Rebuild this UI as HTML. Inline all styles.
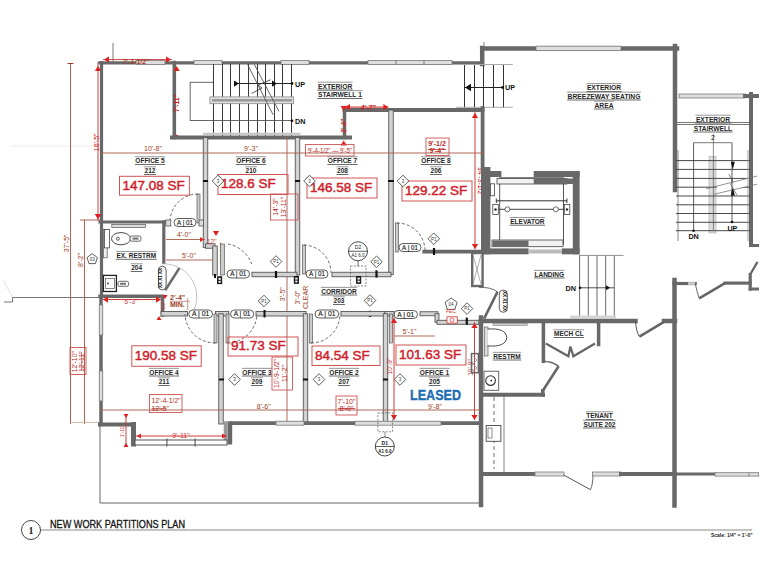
<!DOCTYPE html>
<html><head><meta charset="utf-8"><style>
html,body{margin:0;padding:0;background:#fff;}
svg{display:block;font-family:"Liberation Sans",sans-serif;}
</style></head><body>
<svg width="761" height="588" viewBox="0 0 761 588">
<rect width="761" height="588" fill="#fff"/>
<line x1="10" y1="146" x2="100" y2="146" stroke="#e4e4e4" stroke-width="0.8" />
<line x1="3.6" y1="280.8" x2="13" y2="298" stroke="#e0e0e0" stroke-width="1" />
<line x1="4" y1="302" x2="12.5" y2="302" stroke="#666" stroke-width="0.9" />
<line x1="12.5" y1="302" x2="12.5" y2="297.5" stroke="#666" stroke-width="0.9" />
<line x1="12.5" y1="297.5" x2="100" y2="297.5" stroke="#666" stroke-width="0.9" />
<line x1="100" y1="424" x2="100" y2="503" stroke="#666" stroke-width="1" />
<line x1="100" y1="503" x2="480" y2="503" stroke="#666" stroke-width="1" />
<line x1="40" y1="530" x2="752" y2="530" stroke="#8a8a8a" stroke-width="1.2" />
<circle cx="31" cy="530" r="9.5" fill="#fff" stroke="#444" stroke-width="1"/>
<text x="31" y="534" font-size="10" fill="#222" text-anchor="middle" font-weight="bold" font-family="Liberation Serif">1</text>
<text x="50" y="528" font-size="11" fill="#111" text-anchor="start" font-weight="normal" textLength="135" lengthAdjust="spacingAndGlyphs" stroke="#111" stroke-width="0.3">NEW WORK PARTITIONS PLAN</text>
<text x="711" y="537" font-size="5.5" fill="#222" text-anchor="start" font-weight="bold" textLength="41.5" lengthAdjust="spacingAndGlyphs">Scale: 1/4" = 1'-0"</text>
<line x1="113" y1="43" x2="113" y2="62" stroke="#555" stroke-width="0.8" />
<line x1="70.5" y1="63" x2="70.5" y2="424" stroke="#ad6450" stroke-width="1" />
<text x="69.5" y="243.4" font-size="7" fill="#9c4028" text-anchor="middle" font-weight="normal" transform="rotate(-90 69.5 243.4)">37'-5"</text>
<line x1="98" y1="62" x2="98" y2="221" stroke="#c04040" stroke-width="0.95" />
<polygon points="94.875,71 101.125,71 98,66" fill="#e02020"/>
<polygon points="94.875,214 101.125,214 98,219" fill="#e02020"/>
<text x="99.3" y="142.3" font-size="7" fill="#d02020" text-anchor="middle" font-weight="normal" transform="rotate(-90 99.3 142.3)">16'-5"</text>
<line x1="84.5" y1="220" x2="84.5" y2="424" stroke="#ad6450" stroke-width="1" />
<text x="83.3" y="260" font-size="7" fill="#9c4028" text-anchor="middle" font-weight="normal" transform="rotate(-90 83.3 260)">8'-2"</text>
<line x1="67.5" y1="63.5" x2="73.5" y2="63.5" stroke="#9c4028" stroke-width="1" />
<line x1="80" y1="220" x2="100" y2="220" stroke="#9c4028" stroke-width="0.8" />
<rect x="70" y="347.5" width="16" height="27" fill="none" stroke="#cf5555" stroke-width="0.9"/>
<text x="77" y="361.7" font-size="6.8" fill="#b82828" text-anchor="middle" font-weight="normal" transform="rotate(-90 77 361.7)">12'-10"</text>
<text x="84.3" y="361.7" font-size="6.8" fill="#b82828" text-anchor="middle" font-weight="normal" transform="rotate(-90 84.3 361.7)">12'-11"</text>
<line x1="81.7" y1="352" x2="81.7" y2="371" stroke="#b82828" stroke-width="0.7" />
<line x1="70" y1="422.4" x2="100" y2="422.4" stroke="#c9a59a" stroke-width="0.8" />
<polygon points="92.2,253.7 97.4,257.5 95.4,263.6 89.0,263.6 87.0,257.5" fill="#fff" stroke="#333" stroke-width="0.8"/>
<text x="92.2" y="261.2" font-size="4.5" fill="#333" text-anchor="middle" font-weight="normal" >03</text>
<line x1="100" y1="62.9" x2="482" y2="62.9" stroke="#686868" stroke-width="3.4" stroke-linecap="square"/>
<rect x="136" y="60.5" width="29" height="4" fill="#dedede" stroke="#7a7a7a" stroke-width="0.8"/>
<rect x="194" y="60.5" width="28" height="4" fill="#dedede" stroke="#7a7a7a" stroke-width="0.8"/>
<rect x="281" y="60.5" width="28" height="4" fill="#dedede" stroke="#7a7a7a" stroke-width="0.8"/>
<rect x="368" y="60.5" width="84" height="4" fill="#dedede" stroke="#7a7a7a" stroke-width="0.8"/>
<line x1="396" y1="60.5" x2="396" y2="64.5" stroke="#777" stroke-width="1" />
<line x1="424" y1="60.5" x2="424" y2="64.5" stroke="#777" stroke-width="1" />
<line x1="101.5" y1="62.5" x2="101.5" y2="297.5" stroke="#686868" stroke-width="3.2" stroke-linecap="square"/>
<line x1="174.3" y1="62.5" x2="174.3" y2="137.5" stroke="#686868" stroke-width="3.6" stroke-linecap="square"/>
<line x1="103" y1="59.6" x2="172" y2="59.6" stroke="#c84040" stroke-width="1" />
<polygon points="109,56.475 109,62.725 104,59.6" fill="#e02020"/>
<polygon points="166,56.475 166,62.725 171,59.6" fill="#e02020"/>
<polygon points="173.475,71 179.725,71 176.6,66" fill="#e02020"/>
<circle cx="176.6" cy="137" r="2.2" fill="#e02020"/>
<text x="136" y="63.5" font-size="6.8" fill="#a83a28" text-anchor="middle" font-weight="bold" >7'-1-1/2"</text>
<text x="179.3" y="103.3" font-size="6.5" fill="#d02020" text-anchor="middle" font-weight="bold" transform="rotate(-90 179.3 103.3)">7'-11"</text>
<line x1="172" y1="137.5" x2="350" y2="137.5" stroke="#686868" stroke-width="4" stroke-linecap="square"/>
<line x1="344.5" y1="110" x2="344.5" y2="137.5" stroke="#686868" stroke-width="3.5" stroke-linecap="square"/>
<line x1="344.5" y1="110" x2="482.6" y2="110" stroke="#686868" stroke-width="3.8" stroke-linecap="square"/>
<line x1="343" y1="107.1" x2="388.3" y2="107.1" stroke="#d02020" stroke-width="1" />
<polygon points="350,103.975 350,110.225 345,107.1" fill="#e02020"/>
<polygon points="383.3,103.975 383.3,110.225 388.3,107.1" fill="#e02020"/>
<polygon points="340.575,106 346.825,106 343.7,111" fill="#e02020"/>
<polygon points="340.575,145.5 346.825,145.5 343.7,140.5" fill="#e02020"/>
<text x="368.4" y="110" font-size="7" fill="#c02020" text-anchor="middle" font-weight="bold" >4'-7"</text>
<text x="346.2" y="125.7" font-size="6.5" fill="#d02020" text-anchor="middle" font-weight="bold" transform="rotate(-90 346.2 125.7)">2'-4"</text>
<line x1="213.5" y1="64" x2="213.5" y2="136" stroke="#3a3a3a" stroke-width="1" />
<line x1="222.5" y1="64" x2="222.5" y2="136" stroke="#3a3a3a" stroke-width="1" />
<line x1="230.5" y1="64" x2="230.5" y2="136" stroke="#3a3a3a" stroke-width="1" />
<line x1="239.5" y1="64" x2="239.5" y2="136" stroke="#3a3a3a" stroke-width="1" />
<line x1="248.5" y1="64" x2="248.5" y2="136" stroke="#3a3a3a" stroke-width="1" />
<line x1="257.5" y1="64" x2="257.5" y2="136" stroke="#3a3a3a" stroke-width="1" />
<line x1="265.5" y1="64" x2="265.5" y2="136" stroke="#3a3a3a" stroke-width="1" />
<line x1="274.5" y1="64" x2="274.5" y2="136" stroke="#3a3a3a" stroke-width="1" />
<line x1="282.5" y1="64" x2="282.5" y2="136" stroke="#3a3a3a" stroke-width="1" />
<line x1="291.5" y1="64" x2="291.5" y2="136" stroke="#3a3a3a" stroke-width="1" />
<rect x="203" y="132.7" width="97.4" height="2.6" fill="#c8c8c8"/>
<line x1="190" y1="82.3" x2="213" y2="82.3" stroke="#555" stroke-width="0.9" />
<line x1="190.2" y1="82.3" x2="190.2" y2="120.8" stroke="#555" stroke-width="0.9" />
<rect x="209.9" y="96.9" width="83.7" height="6.8" fill="#e0e0e0" stroke="#888" stroke-width="0.8"/><rect x="212" y="99" width="80" height="2.6" fill="#9a9a9a"/>
<line x1="238" y1="83.5" x2="292" y2="83.5" stroke="#222" stroke-width="1" />
<line x1="190" y1="120.5" x2="292" y2="120.5" stroke="#555" stroke-width="0.9" />
<circle cx="292" cy="83.5" r="1.4" fill="#111"/><circle cx="292" cy="120.8" r="1.4" fill="#111"/>
<polygon points="234,80.375 234,86.625 239,83.5" fill="#111"/>
<polygon points="272,80.375 272,86.625 277,83.5" fill="#111"/>
<line x1="247.5" y1="64.4" x2="273.1" y2="114.8" stroke="#555" stroke-width="0.9" />
<line x1="254.3" y1="64.4" x2="279" y2="111.4" stroke="#555" stroke-width="0.9" />
<polyline points="251.7,93.4 262,88 258,85 270.5,79.8" fill="none" stroke="#444" stroke-width="0.9"/>
<text x="295" y="87" font-size="7.2" fill="#111" text-anchor="start" font-weight="bold" >UP</text>
<text x="295" y="124" font-size="7.2" fill="#111" text-anchor="start" font-weight="bold" >DN</text>
<rect x="317.50" y="81.72" width="35.23" height="0.9" fill="#8a8a8a"/>
<text x="318.00" y="88.5" font-size="7.2" fill="#262626" font-weight="bold" textLength="34.23" lengthAdjust="spacingAndGlyphs">EXTERIOR</text>
<rect x="317.50" y="89.50" width="35.23" height="1" fill="#6a6a6a"/>
<rect x="317.50" y="90.22" width="44.90" height="0.9" fill="#8a8a8a"/>
<text x="318.00" y="97" font-size="7.2" fill="#262626" font-weight="bold" textLength="43.90" lengthAdjust="spacingAndGlyphs">STAIRWELL 1</text>
<rect x="317.50" y="98.00" width="44.90" height="1" fill="#6a6a6a"/>
<line x1="482.2" y1="48" x2="482.2" y2="64" stroke="#686868" stroke-width="4.5" stroke-linecap="square"/>
<line x1="482.2" y1="48.4" x2="677" y2="48.4" stroke="#686868" stroke-width="4.5" stroke-linecap="square"/>
<rect x="536" y="46.15" width="85" height="4.5" fill="#dedede" stroke="#7a7a7a" stroke-width="0.8"/>
<line x1="484" y1="42" x2="484" y2="47" stroke="#666" stroke-width="0.8" />
<line x1="675" y1="46" x2="675" y2="190" stroke="#686868" stroke-width="4.5" stroke-linecap="square"/>
<line x1="678" y1="150" x2="678" y2="241" stroke="#888" stroke-width="1" />
<line x1="464.5" y1="64" x2="464.5" y2="108" stroke="#333" stroke-width="1" />
<line x1="474.5" y1="64" x2="474.5" y2="108" stroke="#333" stroke-width="1" />
<line x1="483.5" y1="64" x2="483.5" y2="108" stroke="#333" stroke-width="1" />
<line x1="493.5" y1="64" x2="493.5" y2="108" stroke="#333" stroke-width="1" />
<line x1="503.5" y1="64" x2="503.5" y2="108" stroke="#333" stroke-width="1" />
<line x1="456.3" y1="64.5" x2="512.8" y2="64.5" stroke="#aaa" stroke-width="1" />
<line x1="456.3" y1="107.3" x2="512.8" y2="107.3" stroke="#aaa" stroke-width="1" />
<line x1="465" y1="87.5" x2="502.6" y2="87.5" stroke="#222" stroke-width="1" />
<polygon points="471,83.75 471,91.25 465,87.5" fill="#111"/>
<circle cx="502.6" cy="87.5" r="1.4" fill="#111"/>
<text x="505" y="90" font-size="7.2" fill="#111" text-anchor="start" font-weight="bold" >UP</text>
<rect x="586.39" y="83.22" width="35.23" height="0.9" fill="#8a8a8a"/>
<text x="586.89" y="90" font-size="7.2" fill="#262626" font-weight="bold" textLength="34.23" lengthAdjust="spacingAndGlyphs">EXTERIOR</text>
<rect x="586.39" y="91.00" width="35.23" height="1" fill="#6a6a6a"/>
<rect x="567.10" y="91.72" width="73.80" height="0.9" fill="#8a8a8a"/>
<text x="567.60" y="98.5" font-size="7.2" fill="#262626" font-weight="bold" textLength="72.80" lengthAdjust="spacingAndGlyphs">BREEZEWAY SEATING</text>
<rect x="567.10" y="99.50" width="73.80" height="1" fill="#6a6a6a"/>
<rect x="594.01" y="100.72" width="19.97" height="0.9" fill="#8a8a8a"/>
<text x="594.51" y="107.5" font-size="7.2" fill="#262626" font-weight="bold" textLength="18.97" lengthAdjust="spacingAndGlyphs">AREA</text>
<rect x="594.01" y="108.50" width="19.97" height="1" fill="#6a6a6a"/>
<rect x="679" y="94.0" width="66" height="4" fill="#dedede" stroke="#7a7a7a" stroke-width="0.8"/>
<line x1="745" y1="96" x2="757" y2="96" stroke="#686868" stroke-width="4" stroke-linecap="square"/>
<line x1="751" y1="94" x2="751" y2="245" stroke="#686868" stroke-width="4" stroke-linecap="square"/>
<line x1="751" y1="245.5" x2="757.5" y2="245.5" stroke="#686868" stroke-width="3" stroke-linecap="square"/>
<line x1="677" y1="122.5" x2="751" y2="122.5" stroke="#555" stroke-width="0.8" />
<line x1="677" y1="124.5" x2="751" y2="124.5" stroke="#555" stroke-width="0.8" />
<rect x="695.39" y="114.72" width="35.23" height="0.9" fill="#8a8a8a"/>
<text x="695.89" y="121.5" font-size="7.2" fill="#262626" font-weight="bold" textLength="34.23" lengthAdjust="spacingAndGlyphs">EXTERIOR</text>
<rect x="695.39" y="122.50" width="35.23" height="1" fill="#6a6a6a"/>
<rect x="693.28" y="123.72" width="39.44" height="0.9" fill="#8a8a8a"/>
<text x="693.78" y="130.5" font-size="7.2" fill="#262626" font-weight="bold" textLength="38.44" lengthAdjust="spacingAndGlyphs">STAIRWELL</text>
<rect x="693.28" y="131.50" width="39.44" height="1" fill="#6a6a6a"/>
<text x="713" y="139.5" font-size="7.2" fill="#222" text-anchor="middle" font-weight="normal" >2</text>
<rect x="709" y="156.5" width="7" height="76.5" fill="#dcdcdc" stroke="#aaa" stroke-width="0.6"/>
<line x1="676" y1="160.6" x2="750" y2="160.6" stroke="#333" stroke-width="0.9" />
<line x1="676" y1="169.4" x2="750" y2="169.4" stroke="#333" stroke-width="0.9" />
<line x1="676" y1="178.4" x2="750" y2="178.4" stroke="#333" stroke-width="0.9" />
<line x1="676" y1="187.2" x2="750" y2="187.2" stroke="#333" stroke-width="0.9" />
<line x1="676" y1="196" x2="750" y2="196" stroke="#333" stroke-width="0.9" />
<line x1="676" y1="204.8" x2="750" y2="204.8" stroke="#333" stroke-width="0.9" />
<line x1="676" y1="213.5" x2="750" y2="213.5" stroke="#333" stroke-width="0.9" />
<line x1="676" y1="222.3" x2="750" y2="222.3" stroke="#333" stroke-width="0.9" />
<line x1="676" y1="230.7" x2="750" y2="230.7" stroke="#333" stroke-width="0.9" />
<line x1="693.6" y1="142.7" x2="732" y2="142.7" stroke="#555" stroke-width="0.8" />
<line x1="693.6" y1="142.7" x2="693.6" y2="230.7" stroke="#333" stroke-width="0.8" />
<line x1="732" y1="142.7" x2="732" y2="222" stroke="#333" stroke-width="0.8" />
<line x1="713.4" y1="134" x2="713.4" y2="231" stroke="#555" stroke-width="0.7" />
<circle cx="693.6" cy="230.7" r="1.3" fill="#111"/><circle cx="732" cy="222" r="1.3" fill="#111"/>
<polygon points="716.8,186.1 749,178.06 749,186.1 716.8,193.6" fill="#fff"/>
<line x1="732" y1="178" x2="732" y2="196" stroke="#333" stroke-width="0.8" />
<line x1="706.2" y1="188.8" x2="757.2" y2="176" stroke="#777" stroke-width="0.8" />
<line x1="713.4" y1="194.4" x2="757.2" y2="184.2" stroke="#777" stroke-width="0.8" />
<polygon points="730.8,161.7 734.8,161.7 732.8,169.4" fill="#111"/><polygon points="732.8,187.2 734.8,195.4 730.8,195.4" fill="#111"/>
<polyline points="728.7,174 733,182 730.5,184 736.8,194.9" fill="none" stroke="#666" stroke-width="0.8"/>
<text x="693.6" y="239" font-size="7.2" fill="#111" text-anchor="middle" font-weight="bold" >DN</text>
<text x="732.4" y="230.5" font-size="7.2" fill="#111" text-anchor="middle" font-weight="bold" >UP</text>
<line x1="748" y1="150" x2="748" y2="241" stroke="#888" stroke-width="0.8" />
<rect x="203.25" y="137.5" width="4.5" height="110.0" fill="#d2d2d2" stroke="#555" stroke-width="0.9"/>
<rect x="205.5" y="243.75" width="9.5" height="4.5" fill="#d2d2d2" stroke="#555" stroke-width="0.9"/>
<rect x="212.75" y="246" width="4.5" height="29" fill="#d2d2d2" stroke="#555" stroke-width="0.9"/>
<rect x="295.25" y="137.5" width="4.5" height="137.5" fill="#d2d2d2" stroke="#555" stroke-width="0.9"/>
<rect x="388.75" y="110" width="4.5" height="164.5" fill="#d2d2d2" stroke="#555" stroke-width="0.9"/>
<line x1="482.6" y1="108" x2="482.6" y2="170" stroke="#686868" stroke-width="3.8" stroke-linecap="square"/>
<line x1="100" y1="153" x2="484" y2="153" stroke="#ad6450" stroke-width="0.95" />
<text x="153" y="151" font-size="7" fill="#9c4028" text-anchor="middle" font-weight="normal" >10'-8"</text>
<text x="251" y="151" font-size="7" fill="#9c4028" text-anchor="middle" font-weight="normal" >9'-3"</text>
<rect x="305.5" y="144.5" width="48.5" height="11.5" fill="none" stroke="#cf5555" stroke-width="0.9"/>
<text x="330" y="153" font-size="6.8" fill="#b82828" text-anchor="middle" font-weight="normal" textLength="44" lengthAdjust="spacingAndGlyphs">9'-4-1/2" — 9'-5"</text>
<rect x="426" y="138" width="23" height="17.5" fill="none" stroke="#cf5555" stroke-width="0.9"/>
<text x="437" y="145.5" font-size="7" fill="#b82828" text-anchor="middle" font-weight="bold" >9'-1/2</text>
<text x="437" y="152.5" font-size="7" fill="#b82828" text-anchor="middle" font-weight="bold" >9'-4"</text>
<line x1="428" y1="149.5" x2="446" y2="149.5" stroke="#b82828" stroke-width="0.8" />
<line x1="475" y1="112" x2="475" y2="249" stroke="#d03030" stroke-width="0.95" />
<polygon points="471.875,118 478.125,118 475,113" fill="#e02020"/>
<polygon points="471.875,244 478.125,244 475,249" fill="#e02020"/>
<text x="477.8" y="182" font-size="7" fill="#d02020" text-anchor="middle" font-weight="normal" transform="rotate(90 477.8 182)">14'-3-1/2"</text>
<rect x="134.85" y="156.36" width="30.30" height="0.9" fill="#8a8a8a"/>
<text x="135.35" y="163" font-size="7" fill="#262626" font-weight="bold" textLength="29.30" lengthAdjust="spacingAndGlyphs">OFFICE 5</text>
<rect x="134.85" y="164.00" width="30.30" height="1" fill="#6a6a6a"/>
<rect x="144.07" y="166.36" width="11.86" height="0.9" fill="#8a8a8a"/>
<text x="144.57" y="173" font-size="7" fill="#262626" font-weight="bold" textLength="10.86" lengthAdjust="spacingAndGlyphs">212</text>
<rect x="144.07" y="174.00" width="11.86" height="1" fill="#6a6a6a"/>
<rect x="235.85" y="156.36" width="30.30" height="0.9" fill="#8a8a8a"/>
<text x="236.35" y="163" font-size="7" fill="#262626" font-weight="bold" textLength="29.30" lengthAdjust="spacingAndGlyphs">OFFICE 6</text>
<rect x="235.85" y="164.00" width="30.30" height="1" fill="#6a6a6a"/>
<rect x="245.07" y="166.36" width="11.86" height="0.9" fill="#8a8a8a"/>
<text x="245.57" y="173" font-size="7" fill="#262626" font-weight="bold" textLength="10.86" lengthAdjust="spacingAndGlyphs">210</text>
<rect x="245.07" y="174.00" width="11.86" height="1" fill="#6a6a6a"/>
<rect x="327.35" y="156.36" width="30.30" height="0.9" fill="#8a8a8a"/>
<text x="327.85" y="163" font-size="7" fill="#262626" font-weight="bold" textLength="29.30" lengthAdjust="spacingAndGlyphs">OFFICE 7</text>
<rect x="327.35" y="164.00" width="30.30" height="1" fill="#6a6a6a"/>
<rect x="336.57" y="166.36" width="11.86" height="0.9" fill="#8a8a8a"/>
<text x="337.07" y="173" font-size="7" fill="#262626" font-weight="bold" textLength="10.86" lengthAdjust="spacingAndGlyphs">208</text>
<rect x="336.57" y="174.00" width="11.86" height="1" fill="#6a6a6a"/>
<rect x="420.85" y="156.36" width="30.30" height="0.9" fill="#8a8a8a"/>
<text x="421.35" y="163" font-size="7" fill="#262626" font-weight="bold" textLength="29.30" lengthAdjust="spacingAndGlyphs">OFFICE 8</text>
<rect x="420.85" y="164.00" width="30.30" height="1" fill="#6a6a6a"/>
<rect x="430.07" y="166.36" width="11.86" height="0.9" fill="#8a8a8a"/>
<text x="430.57" y="173" font-size="7" fill="#262626" font-weight="bold" textLength="10.86" lengthAdjust="spacingAndGlyphs">206</text>
<rect x="430.07" y="174.00" width="11.86" height="1" fill="#6a6a6a"/>
<rect x="119.5" y="176.3" width="69.9" height="18.899999999999977" fill="none" stroke="#cf5555" stroke-width="1"/>
<text x="122.5" y="189.665" font-size="13.5" fill="#d0202a" text-anchor="start" font-weight="normal" stroke="#d0202a" stroke-width="0.45">147.08 SF</text>
<rect x="218" y="174.5" width="70" height="20.0" fill="none" stroke="#cf5555" stroke-width="1"/>
<text x="221" y="188.415" font-size="13.5" fill="#d0202a" text-anchor="start" font-weight="normal" stroke="#d0202a" stroke-width="0.45">128.6 SF</text>
<rect x="307" y="178" width="70" height="20" fill="none" stroke="#cf5555" stroke-width="1"/>
<text x="310" y="191.915" font-size="13.5" fill="#d0202a" text-anchor="start" font-weight="normal" stroke="#d0202a" stroke-width="0.45">146.58 SF</text>
<rect x="402" y="181" width="70" height="20" fill="none" stroke="#cf5555" stroke-width="1"/>
<text x="405" y="194.915" font-size="13.5" fill="#d0202a" text-anchor="start" font-weight="normal" stroke="#d0202a" stroke-width="0.45">129.22 SF</text>
<polygon points="218,175.2 223.8,181 218,186.8 212.2,181" fill="#fff" stroke="#333" stroke-width="0.8"/>
<text x="218" y="182.8" font-size="4.5" fill="#333" text-anchor="middle" font-weight="normal" >3</text>
<polygon points="309.5,175.2 315.3,181 309.5,186.8 303.7,181" fill="#fff" stroke="#333" stroke-width="0.8"/>
<text x="309.5" y="182.8" font-size="4.5" fill="#333" text-anchor="middle" font-weight="normal" >3</text>
<polygon points="403,175.2 408.8,181 403,186.8 397.2,181" fill="#fff" stroke="#333" stroke-width="0.8"/>
<text x="403" y="182.8" font-size="4.5" fill="#333" text-anchor="middle" font-weight="normal" >3</text>
<line x1="203" y1="181" x2="208" y2="181" stroke="#111" stroke-width="2" />
<line x1="295" y1="181" x2="300" y2="181" stroke="#111" stroke-width="2" />
<line x1="388" y1="181" x2="394" y2="181" stroke="#111" stroke-width="2" />
<rect x="270.5" y="194" width="27.5" height="26" fill="none" stroke="#cf5555" stroke-width="0.9"/>
<text x="278" y="207" font-size="6.8" fill="#b82828" text-anchor="middle" font-weight="normal" transform="rotate(-90 278 207)">14'-3"</text>
<text x="286" y="207" font-size="6.8" fill="#b82828" text-anchor="middle" font-weight="normal" transform="rotate(-90 286 207)">13'-11"</text>
<line x1="287" y1="137.5" x2="287" y2="424" stroke="#ad6450" stroke-width="0.95" />
<line x1="100" y1="222" x2="164.6" y2="222" stroke="#686868" stroke-width="3.2" stroke-linecap="square"/>
<line x1="163.8" y1="222" x2="163.8" y2="262.4" stroke="#686868" stroke-width="3.2" stroke-linecap="square"/>
<line x1="100" y1="296.3" x2="162.5" y2="296.3" stroke="#686868" stroke-width="3.5" stroke-linecap="square"/>
<polygon points="94.875,214 101.125,214 98,219" fill="#e02020"/>
<rect x="111.8" y="224.6" width="33.7" height="2.8" fill="#ddd" stroke="#555" stroke-width="0.7"/>
<rect x="103.4" y="229.5" width="3.8" height="28.3" fill="#eee" stroke="#555" stroke-width="0.7"/>
<rect x="104.5" y="229.5" width="5" height="18.4" fill="#fff" stroke="#444" stroke-width="0.8"/>
<ellipse cx="121" cy="238.7" rx="9.5" ry="6.1" fill="#fff" stroke="#333" stroke-width="0.9"/>
<circle cx="117.9" cy="238.7" r="1.5" fill="none" stroke="#333" stroke-width="0.8"/>
<rect x="130.2" y="236" width="10.7" height="5.2" rx="1.5" fill="#fff" stroke="#444" stroke-width="0.8"/><rect x="132.5" y="237.5" width="6" height="2.2" fill="#777"/>
<rect x="115.91" y="251.16" width="40.79" height="0.9" fill="#8a8a8a"/>
<text x="116.41" y="257.8" font-size="7" fill="#262626" font-weight="bold" textLength="39.79" lengthAdjust="spacingAndGlyphs">EX. RESTRM</text>
<rect x="115.91" y="258.80" width="40.79" height="1" fill="#6a6a6a"/>
<rect x="130.67" y="263.36" width="11.86" height="0.9" fill="#8a8a8a"/>
<text x="131.17" y="270" font-size="7" fill="#262626" font-weight="bold" textLength="10.86" lengthAdjust="spacingAndGlyphs">204</text>
<rect x="130.67" y="271.00" width="11.86" height="1" fill="#6a6a6a"/>
<rect x="103.4" y="275.4" width="13" height="16.1" fill="#fff" stroke="#222" stroke-width="1.3"/>
<rect x="105.5" y="278.5" width="9" height="10" fill="#fff" stroke="#555" stroke-width="0.7"/><circle cx="108" cy="283.5" r="0.9" fill="#333"/>
<rect x="117.9" y="281.3" width="10.7" height="5" rx="1.5" fill="#fff" stroke="#444" stroke-width="0.8"/><rect x="120" y="282.8" width="6" height="2" fill="#777"/>
<rect x="158.5" y="266.2" width="7.6" height="23.7" rx="3.8" fill="#fff" stroke="#333" stroke-width="0.8"/>
<text x="162.3" y="278" font-size="4.5" fill="#222" text-anchor="middle" font-weight="bold" transform="rotate(-90 162.3 278)">XX X1 XX</text>
<line x1="165.2" y1="290.4" x2="179.5" y2="267.9" stroke="#6a6a6a" stroke-width="2.6" />
<path d="M163.2,263.8 A33,33 0 0 1 194,310" fill="none" stroke="#bbb" stroke-width="0.9"/>
<line x1="103" y1="299.5" x2="161" y2="299.5" stroke="#d03030" stroke-width="0.95" />
<polygon points="108,296.375 108,302.625 103,299.5" fill="#e02020"/>
<polygon points="156,296.375 156,302.625 161,299.5" fill="#e02020"/>
<text x="131" y="304" font-size="6.5" fill="#c04040" text-anchor="middle" font-weight="normal" >6'-3"</text>
<line x1="166" y1="239.5" x2="205" y2="239.5" stroke="#ad6450" stroke-width="0.95" />
<text x="184" y="237" font-size="7" fill="#9c4028" text-anchor="middle" font-weight="normal" >4'-0"</text>
<polygon points="200,237.0 200,242.0 204,239.5" fill="#e02020"/>
<line x1="166" y1="260" x2="213" y2="260" stroke="#ad6450" stroke-width="0.95" />
<text x="189" y="257.5" font-size="7" fill="#9c4028" text-anchor="middle" font-weight="normal" >5'-0"</text>
<text x="207" y="244" font-size="6.5" fill="#c04040" text-anchor="start" font-weight="normal" >12"</text>
<polygon points="212.875,231 219.125,231 216,236" fill="#e02020"/>
<text x="222.3" y="259" font-size="6" fill="#d02020" text-anchor="middle" font-weight="normal" transform="rotate(-90 220 255)">1'-2-1/2"</text>
<text x="170" y="299.9" font-size="7" fill="#9c4028" text-anchor="start" font-weight="bold" >2'-4"</text>
<text x="170" y="307.4" font-size="7" fill="#9c4028" text-anchor="start" font-weight="bold" >MIN.</text>
<line x1="170" y1="301.3" x2="190" y2="301.3" stroke="#b07060" stroke-width="0.7" />
<line x1="187.7" y1="298" x2="187.7" y2="310" stroke="#b07060" stroke-width="0.7" />
<line x1="162.5" y1="297" x2="162.5" y2="315" stroke="#686868" stroke-width="3.5" stroke-linecap="square"/>
<polygon points="162.5,295 167.5,295 165,299" fill="#e02020"/>
<polygon points="156.5,320 161.5,320 159,316" fill="#e02020"/>
<text x="165" y="308" font-size="5" fill="#c04040" text-anchor="middle" font-weight="normal" transform="rotate(-90 165 308)">4'-1/2"</text>
<rect x="197" y="194" width="3" height="29" fill="#ccc" stroke="#444" stroke-width="0.6"/>
<path d="M198,194 A28,28 0 0 0 170,222" fill="none" stroke="#444" stroke-width="0.8" stroke-dasharray="3,2"/>
<rect x="220.3" y="244" width="4" height="31" fill="#ccc" stroke="#444" stroke-width="0.6"/>
<path d="M228,244 A31,31 0 0 1 251.6,264" fill="none" stroke="#444" stroke-width="0.8" stroke-dasharray="3,2"/>
<rect x="302.5" y="245" width="3" height="29" fill="#ccc" stroke="#444" stroke-width="0.6"/>
<path d="M304,245 A28,28 0 0 1 331,273" fill="none" stroke="#444" stroke-width="0.8" stroke-dasharray="3,2"/>
<rect x="395.5" y="223" width="3" height="29" fill="#ccc" stroke="#444" stroke-width="0.6"/>
<path d="M397,223 A28,28 0 0 1 425,250" fill="none" stroke="#444" stroke-width="0.8" stroke-dasharray="3,2"/>
<rect x="165.8" y="220" width="5" height="6" fill="#ddd" stroke="#555" stroke-width="0.8"/><rect x="199" y="220" width="4.5" height="6" fill="#ddd" stroke="#555" stroke-width="0.8"/>
<rect x="174" y="218.5" width="22" height="8" rx="4" fill="#fff" stroke="#333" stroke-width="0.8"/>
<text x="185.0" y="224.8" font-size="6.5" fill="#1a1a1a" font-weight="normal" stroke="#1a1a1a" stroke-width="0.15" text-anchor="middle" textLength="15.8" lengthAdjust="spacingAndGlyphs">A | 01</text>
<rect x="252" y="272.25" width="45" height="4.5" fill="#d2d2d2" stroke="#555" stroke-width="0.9"/>
<rect x="332" y="272.25" width="59" height="4.5" fill="#d2d2d2" stroke="#555" stroke-width="0.9"/>
<rect x="227" y="270.0" width="22.5" height="8" rx="4" fill="#fff" stroke="#333" stroke-width="0.8"/>
<text x="238.25" y="276.3" font-size="6.5" fill="#1a1a1a" font-weight="normal" stroke="#1a1a1a" stroke-width="0.15" text-anchor="middle" textLength="16.2" lengthAdjust="spacingAndGlyphs">A | 01</text>
<rect x="306" y="270.0" width="22" height="8" rx="4" fill="#fff" stroke="#333" stroke-width="0.8"/>
<text x="317.0" y="276.3" font-size="6.5" fill="#1a1a1a" font-weight="normal" stroke="#1a1a1a" stroke-width="0.15" text-anchor="middle" textLength="15.8" lengthAdjust="spacingAndGlyphs">A | 01</text>
<line x1="424.3" y1="251.6" x2="481" y2="251.6" stroke="#686868" stroke-width="3.8" stroke-linecap="square"/>
<rect x="399" y="243.5" width="22" height="8" rx="4" fill="#fff" stroke="#333" stroke-width="0.8"/>
<text x="410.0" y="249.8" font-size="6.5" fill="#1a1a1a" font-weight="normal" stroke="#1a1a1a" stroke-width="0.15" text-anchor="middle" textLength="15.8" lengthAdjust="spacingAndGlyphs">A | 01</text>
<line x1="215" y1="274" x2="215" y2="278" stroke="#111" stroke-width="2" />
<rect x="217.6" y="276.8" width="4.1" height="6.8" fill="#333" stroke="#111" stroke-width="1"/><rect x="218.6" y="278" width="2.1" height="1.8" fill="#fff"/><rect x="218.6" y="281" width="2.1" height="1.6" fill="#fff"/>
<rect x="294.3" y="276.5" width="4.1" height="6.8" fill="#333" stroke="#111" stroke-width="1"/><rect x="295.3" y="277.7" width="2.1" height="1.8" fill="#fff"/><rect x="295.3" y="280.7" width="2.1" height="1.6" fill="#fff"/>
<polygon points="276,255.7 281.8,261.5 276,267.3 270.2,261.5" fill="#fff" stroke="#333" stroke-width="0.8"/>
<text x="276" y="263.3" font-size="4.5" fill="#333" text-anchor="middle" font-weight="normal" >P1</text>
<polygon points="376.5,256.0 382.3,261.8 376.5,267.6 370.7,261.8" fill="#fff" stroke="#333" stroke-width="0.8"/>
<text x="376.5" y="263.6" font-size="4.5" fill="#333" text-anchor="middle" font-weight="normal" >P1</text>
<polygon points="433.75,232.95 439.55,238.75 433.75,244.55 427.95,238.75" fill="#fff" stroke="#333" stroke-width="0.8"/>
<text x="433.75" y="240.55" font-size="4.5" fill="#333" text-anchor="middle" font-weight="normal" >P1</text>
<line x1="276" y1="271" x2="276" y2="278" stroke="#111" stroke-width="2.2" />
<line x1="376.5" y1="270.3" x2="376.5" y2="277.6" stroke="#111" stroke-width="2.2" />
<line x1="434" y1="248" x2="434" y2="255" stroke="#111" stroke-width="2.2" />
<rect x="356.6" y="276.5" width="4.1" height="6.8" fill="#333" stroke="#111" stroke-width="1"/><rect x="357.6" y="277.7" width="2.1" height="1.8" fill="#fff"/><rect x="357.6" y="280.7" width="2.1" height="1.6" fill="#fff"/>
<line x1="358.1" y1="259.8" x2="358.1" y2="266.4" stroke="#444" stroke-width="0.8" />
<circle cx="358" cy="251.25" r="9.5" fill="#fff" stroke="#333" stroke-width="0.9"/>
<line x1="348.5" y1="251.25" x2="367.5" y2="251.25" stroke="#333" stroke-width="0.8" />
<text x="358" y="249" font-size="5" fill="#222" text-anchor="middle" font-weight="normal" >D2</text>
<text x="358" y="257" font-size="4.5" fill="#222" text-anchor="middle" font-weight="normal" >A1 6.0</text>
<rect x="350.5" y="266" width="15.5" height="20" fill="none" stroke="#555" stroke-width="0.7" stroke-dasharray="2,1.5"/>
<rect x="320.78" y="286.86" width="36.44" height="0.9" fill="#8a8a8a"/>
<text x="321.28" y="293.5" font-size="7" fill="#262626" font-weight="bold" textLength="35.44" lengthAdjust="spacingAndGlyphs">CORRIDOR</text>
<rect x="320.78" y="294.50" width="36.44" height="1" fill="#6a6a6a"/>
<rect x="333.07" y="296.36" width="11.86" height="0.9" fill="#8a8a8a"/>
<text x="333.57" y="303" font-size="7" fill="#262626" font-weight="bold" textLength="10.86" lengthAdjust="spacingAndGlyphs">203</text>
<rect x="333.07" y="304.00" width="11.86" height="1" fill="#6a6a6a"/>
<text x="284.7" y="294.2" font-size="7" fill="#9c4028" text-anchor="middle" font-weight="normal" transform="rotate(-90 284.7 294.2)">3'-5"</text>
<text x="300.5" y="297.4" font-size="7" fill="#9c4028" text-anchor="middle" font-weight="normal" transform="rotate(-90 300.5 297.4)">3'-0"</text>
<text x="307.6" y="297.4" font-size="7" fill="#9c4028" text-anchor="middle" font-weight="normal" transform="rotate(-90 307.6 297.4)">CLEAR</text>
<polygon points="264,295.2 269.8,301 264,306.8 258.2,301" fill="#fff" stroke="#333" stroke-width="0.8"/>
<text x="264" y="302.8" font-size="4.5" fill="#333" text-anchor="middle" font-weight="normal" >P1</text>
<polygon points="370,294.7 375.8,300.5 370,306.3 364.2,300.5" fill="#fff" stroke="#333" stroke-width="0.8"/>
<text x="370" y="302.3" font-size="4.5" fill="#333" text-anchor="middle" font-weight="normal" >P1</text>
<line x1="370" y1="310.8" x2="370" y2="317" stroke="#111" stroke-width="2.2" />
<rect x="481" y="167" width="9.4" height="87.3" fill="#686868"/>
<rect x="481" y="171" width="20.4" height="6" fill="#686868"/>
<rect x="533.7" y="171" width="45.9" height="6" fill="#686868"/>
<rect x="572.8" y="171" width="6.8" height="83.3" fill="#686868"/>
<rect x="481" y="248.4" width="47.6" height="5.9" fill="#686868"/>
<rect x="561.8" y="248.4" width="17.8" height="5.9" fill="#686868"/>
<rect x="528.6" y="249.5" width="33.2" height="4" fill="#bbb"/>
<rect x="499.7" y="177.8" width="63.8" height="66.3" fill="none" stroke="#444" stroke-width="0.9"/>
<rect x="497" y="178.5" width="70" height="5.5" fill="#f2f2f2" stroke="#444" stroke-width="0.8"/>
<rect x="533.7" y="178.5" width="40" height="5.5" fill="#6a6a6a"/>
<rect x="492" y="240" width="71" height="6.7" fill="#f2f2f2" stroke="#444" stroke-width="0.8"/>
<rect x="492.5" y="240.5" width="36" height="6" fill="#6a6a6a"/>
<line x1="496.3" y1="200.8" x2="566.9" y2="200.8" stroke="#333" stroke-width="1" />
<line x1="496.3" y1="198.5" x2="496.3" y2="203" stroke="#333" stroke-width="1" />
<line x1="566.9" y1="198.5" x2="566.9" y2="203" stroke="#333" stroke-width="1" />
<line x1="496" y1="209.3" x2="566" y2="209.3" stroke="#444" stroke-width="1" />
<circle cx="507.4" cy="209.3" r="2.5" fill="#fff" stroke="#444" stroke-width="0.8"/><circle cx="555.8" cy="209.3" r="2.5" fill="#fff" stroke="#444" stroke-width="0.8"/>
<rect x="492.8" y="204.5" width="5.5" height="10" fill="#fff" stroke="#444" stroke-width="0.8"/><rect x="564.3" y="204.5" width="5.5" height="10" fill="#fff" stroke="#444" stroke-width="0.8"/>
<circle cx="495.5" cy="209.5" r="1.3" fill="#333"/><circle cx="567" cy="209.5" r="1.3" fill="#333"/>
<rect x="490.4" y="183.8" width="4.2" height="12" fill="#fff" stroke="#444" stroke-width="0.8"/>
<rect x="509.72" y="217.06" width="35.36" height="0.9" fill="#8a8a8a"/>
<text x="510.22" y="223.7" font-size="7" fill="#262626" font-weight="bold" textLength="34.36" lengthAdjust="spacingAndGlyphs">ELEVATOR</text>
<rect x="509.72" y="224.70" width="35.36" height="1" fill="#6a6a6a"/>
<rect x="472.2" y="253" width="10.4" height="33" fill="#fff" stroke="#6a6a6a" stroke-width="2.4"/>
<line x1="473" y1="255" x2="481" y2="284" stroke="#777" stroke-width="0.6" />
<line x1="481" y1="255" x2="473" y2="284" stroke="#777" stroke-width="0.6" />
<line x1="484.1" y1="318.6" x2="497.5" y2="291.8" stroke="#666" stroke-width="2.6" />
<path d="M478.75,287.3 Q491,287 497.5,291.8" fill="none" stroke="#444" stroke-width="0.8"/>
<rect x="499.3" y="290" width="8" height="22.3" rx="4" fill="#fff" stroke="#333" stroke-width="0.8"/>
<text x="503.3" y="301" font-size="4.5" fill="#222" text-anchor="middle" font-weight="bold" transform="rotate(90 503.3 301)">XX X1 XX</text>
<rect x="533.97" y="269.86" width="30.65" height="0.9" fill="#8a8a8a"/>
<text x="534.47" y="276.5" font-size="7" fill="#262626" font-weight="bold" textLength="29.65" lengthAdjust="spacingAndGlyphs">LANDING</text>
<rect x="533.97" y="277.50" width="30.65" height="1" fill="#6a6a6a"/>
<line x1="579.6" y1="255.4" x2="579.6" y2="316.7" stroke="#444" stroke-width="0.8" />
<line x1="588.3" y1="255.4" x2="588.3" y2="316.7" stroke="#444" stroke-width="0.8" />
<line x1="597" y1="255.4" x2="597" y2="316.7" stroke="#444" stroke-width="0.8" />
<line x1="605.7" y1="255.4" x2="605.7" y2="316.7" stroke="#444" stroke-width="0.8" />
<line x1="614.3" y1="255.4" x2="614.3" y2="316.7" stroke="#444" stroke-width="0.8" />
<line x1="579" y1="255.4" x2="623.6" y2="255.4" stroke="#777" stroke-width="0.8" />
<rect x="570" y="315.5" width="46" height="3" fill="#d5d5d5"/>
<line x1="580" y1="287.8" x2="614" y2="287.8" stroke="#222" stroke-width="0.8" />
<polygon points="606,285.3 606,290.3 610,287.8" fill="#111"/>
<circle cx="580" cy="287.8" r="1.3" fill="#111"/>
<text x="576" y="290.5" font-size="7.2" fill="#111" text-anchor="end" font-weight="bold" >DN</text>
<line x1="674.5" y1="280" x2="674.5" y2="505.5" stroke="#686868" stroke-width="4.5" stroke-linecap="square"/>
<line x1="674" y1="283.5" x2="695.2" y2="283.5" stroke="#686868" stroke-width="3.2" stroke-linecap="square"/>
<rect x="688" y="282.2" width="7.2" height="2.6" fill="#ccc"/>
<path d="M695.2,283.5 Q697,292 699.2,298.4" fill="none" stroke="#555" stroke-width="0.9"/>
<line x1="699.2" y1="298.4" x2="725" y2="283.1" stroke="#666" stroke-width="2.6" />
<line x1="725" y1="283.1" x2="750.2" y2="283.1" stroke="#686868" stroke-width="3.2" stroke-linecap="square"/>
<line x1="750.2" y1="274.5" x2="750.2" y2="289.1" stroke="#686868" stroke-width="3.2" stroke-linecap="square"/>
<line x1="750.2" y1="289" x2="757.5" y2="289" stroke="#686868" stroke-width="3" stroke-linecap="square"/>
<line x1="750.2" y1="274.5" x2="757.5" y2="261.9" stroke="#666" stroke-width="2.2" />
<rect x="161" y="311.5" width="26.5" height="4.5" fill="#d2d2d2" stroke="#555" stroke-width="0.9"/>
<rect x="188.75" y="310.0" width="23.75" height="8" rx="4" fill="#fff" stroke="#333" stroke-width="0.8"/>
<text x="200.625" y="316.3" font-size="6.5" fill="#1a1a1a" font-weight="normal" stroke="#1a1a1a" stroke-width="0.15" text-anchor="middle" textLength="17.1" lengthAdjust="spacingAndGlyphs">A | 01</text>
<rect x="215.5" y="311.5" width="13.25" height="4.5" fill="#d2d2d2" stroke="#555" stroke-width="0.9"/>
<rect x="230.5" y="310.0" width="23.25" height="8" rx="4" fill="#fff" stroke="#333" stroke-width="0.8"/>
<text x="242.125" y="316.3" font-size="6.5" fill="#1a1a1a" font-weight="normal" stroke="#1a1a1a" stroke-width="0.15" text-anchor="middle" textLength="16.7" lengthAdjust="spacingAndGlyphs">A | 01</text>
<rect x="256" y="311.5" width="50" height="4.5" fill="#d2d2d2" stroke="#555" stroke-width="0.9"/>
<line x1="264.5" y1="310" x2="264.5" y2="317.5" stroke="#111" stroke-width="2" />
<rect x="315" y="310.0" width="23.75" height="8" rx="4" fill="#fff" stroke="#333" stroke-width="0.8"/>
<text x="326.875" y="316.3" font-size="6.5" fill="#1a1a1a" font-weight="normal" stroke="#1a1a1a" stroke-width="0.15" text-anchor="middle" textLength="17.1" lengthAdjust="spacingAndGlyphs">A | 01</text>
<rect x="341" y="311.5" width="44" height="4.5" fill="#d2d2d2" stroke="#555" stroke-width="0.9"/>
<rect x="394" y="310.5" width="23.5" height="8" rx="4" fill="#fff" stroke="#333" stroke-width="0.8"/>
<text x="405.75" y="316.8" font-size="6.5" fill="#1a1a1a" font-weight="normal" stroke="#1a1a1a" stroke-width="0.15" text-anchor="middle" textLength="16.9" lengthAdjust="spacingAndGlyphs">A | 01</text>
<rect x="385" y="311.5" width="9" height="4.5" fill="#d2d2d2" stroke="#555" stroke-width="0.9"/>
<rect x="420" y="311.75" width="18" height="4" fill="#d2d2d2" stroke="#555" stroke-width="0.9"/>
<rect x="435.0" y="313.75" width="4" height="8.550000000000011" fill="#d2d2d2" stroke="#555" stroke-width="0.9"/>
<rect x="437" y="320.3" width="42" height="4" fill="#d2d2d2" stroke="#555" stroke-width="0.9"/>
<line x1="466.8" y1="317.6" x2="466.8" y2="324.7" stroke="#111" stroke-width="2.2" />
<rect x="218.75" y="313.75" width="4.5" height="110.25" fill="#d2d2d2" stroke="#555" stroke-width="0.9"/>
<rect x="303.25" y="313.75" width="4.5" height="110.25" fill="#d2d2d2" stroke="#555" stroke-width="0.9"/>
<rect x="383.25" y="313.75" width="4.5" height="110.25" fill="#d2d2d2" stroke="#555" stroke-width="0.9"/>
<line x1="481" y1="317.5" x2="481" y2="505" stroke="#686868" stroke-width="4.5" stroke-linecap="square"/>
<line x1="101" y1="297" x2="101" y2="424.5" stroke="#686868" stroke-width="3.5" stroke-linecap="square"/>
<rect x="99.25" y="305" width="3.5" height="30" fill="#dedede" stroke="#7a7a7a" stroke-width="0.8"/>
<rect x="99.25" y="371" width="3.5" height="30" fill="#dedede" stroke="#7a7a7a" stroke-width="0.8"/>
<line x1="100" y1="424.5" x2="132" y2="424.5" stroke="#686868" stroke-width="4" stroke-linecap="square"/>
<line x1="133.5" y1="424.5" x2="133.5" y2="444" stroke="#686868" stroke-width="5" stroke-linecap="square"/>
<line x1="232" y1="423.2" x2="481" y2="423.2" stroke="#686868" stroke-width="3.8" stroke-linecap="square"/>
<rect x="276" y="421.2" width="28" height="4" fill="#dedede" stroke="#7a7a7a" stroke-width="0.8"/>
<rect x="355" y="421.2" width="86" height="4" fill="#dedede" stroke="#7a7a7a" stroke-width="0.8"/>
<rect x="227.5" y="421.3" width="4.7" height="23.2" fill="#686868"/><rect x="223.7" y="421.3" width="3.8" height="23.2" fill="#999"/>
<rect x="135" y="440" width="92" height="5" fill="#fff" stroke="#555" stroke-width="1"/>
<line x1="166.9" y1="438.5" x2="166.9" y2="446.5" stroke="#444" stroke-width="1" />
<line x1="195.1" y1="438.5" x2="195.1" y2="446.5" stroke="#444" stroke-width="1" />
<line x1="136" y1="436" x2="227" y2="436" stroke="#d03030" stroke-width="0.95" />
<polygon points="141,433.5 141,438.5 137,436" fill="#e02020"/>
<polygon points="222,433.5 222,438.5 226,436" fill="#e02020"/>
<text x="181" y="437.6" font-size="7" fill="#c83030" text-anchor="middle" font-weight="normal" >9'-11"</text>
<line x1="126" y1="414" x2="126" y2="445" stroke="#d03030" stroke-width="0.95" />
<polygon points="123.5,414 128.5,414 126,418" fill="#e02020"/>
<polygon points="123.5,447 128.5,447 126,443" fill="#e02020"/>
<text x="124" y="431" font-size="5" fill="#c04040" text-anchor="middle" font-weight="normal" transform="rotate(-90 124 431)">1'-11"</text>
<rect x="214.0" y="314" width="3" height="29" fill="#ccc" stroke="#444" stroke-width="0.6"/>
<rect x="226.0" y="314" width="3" height="29" fill="#ccc" stroke="#444" stroke-width="0.6"/>
<rect x="309.5" y="314" width="3" height="29" fill="#ccc" stroke="#444" stroke-width="0.6"/>
<rect x="389.5" y="314" width="3" height="29" fill="#ccc" stroke="#444" stroke-width="0.6"/>
<path d="M215.5,343 A30,30 0 0 1 185,314" fill="none" stroke="#444" stroke-width="0.8" stroke-dasharray="3,2"/>
<path d="M227.5,343 A30,30 0 0 0 257,314" fill="none" stroke="#444" stroke-width="0.8" stroke-dasharray="3,2"/>
<path d="M311,343 A29,29 0 0 0 340,314" fill="none" stroke="#444" stroke-width="0.8" stroke-dasharray="3,2"/>
<line x1="100" y1="410" x2="481" y2="410" stroke="#ad6450" stroke-width="0.95" />
<rect x="131.8" y="345.8" width="69.39999999999998" height="20.5" fill="none" stroke="#cf5555" stroke-width="1"/>
<text x="134.8" y="359.96500000000003" font-size="13.5" fill="#d0202a" text-anchor="start" font-weight="normal" stroke="#d0202a" stroke-width="0.45">190.58 SF</text>
<rect x="228" y="337" width="70" height="19" fill="none" stroke="#cf5555" stroke-width="1"/>
<text x="231" y="350.415" font-size="13.5" fill="#d0202a" text-anchor="start" font-weight="normal" stroke="#d0202a" stroke-width="0.45">91.73 SF</text>
<rect x="312" y="346" width="68" height="19.5" fill="none" stroke="#cf5555" stroke-width="1"/>
<text x="315" y="359.665" font-size="13.5" fill="#d0202a" text-anchor="start" font-weight="normal" stroke="#d0202a" stroke-width="0.45">84.54 SF</text>
<rect x="396" y="345" width="70" height="20" fill="none" stroke="#cf5555" stroke-width="1"/>
<text x="399" y="358.915" font-size="13.5" fill="#d0202a" text-anchor="start" font-weight="normal" stroke="#d0202a" stroke-width="0.45">101.63 SF</text>
<rect x="148.85" y="367.86" width="30.30" height="0.9" fill="#8a8a8a"/>
<text x="149.35" y="374.5" font-size="7" fill="#262626" font-weight="bold" textLength="29.30" lengthAdjust="spacingAndGlyphs">OFFICE 4</text>
<rect x="148.85" y="375.50" width="30.30" height="1" fill="#6a6a6a"/>
<rect x="158.25" y="377.36" width="11.50" height="0.9" fill="#8a8a8a"/>
<text x="158.75" y="384" font-size="7" fill="#262626" font-weight="bold" textLength="10.50" lengthAdjust="spacingAndGlyphs">211</text>
<rect x="158.25" y="385.00" width="11.50" height="1" fill="#6a6a6a"/>
<rect x="241.85" y="367.86" width="30.30" height="0.9" fill="#8a8a8a"/>
<text x="242.35" y="374.5" font-size="7" fill="#262626" font-weight="bold" textLength="29.30" lengthAdjust="spacingAndGlyphs">OFFICE 3</text>
<rect x="241.85" y="375.50" width="30.30" height="1" fill="#6a6a6a"/>
<rect x="251.07" y="377.36" width="11.86" height="0.9" fill="#8a8a8a"/>
<text x="251.57" y="384" font-size="7" fill="#262626" font-weight="bold" textLength="10.86" lengthAdjust="spacingAndGlyphs">209</text>
<rect x="251.07" y="385.00" width="11.86" height="1" fill="#6a6a6a"/>
<rect x="328.85" y="367.86" width="30.30" height="0.9" fill="#8a8a8a"/>
<text x="329.35" y="374.5" font-size="7" fill="#262626" font-weight="bold" textLength="29.30" lengthAdjust="spacingAndGlyphs">OFFICE 2</text>
<rect x="328.85" y="375.50" width="30.30" height="1" fill="#6a6a6a"/>
<rect x="338.07" y="377.36" width="11.86" height="0.9" fill="#8a8a8a"/>
<text x="338.57" y="384" font-size="7" fill="#262626" font-weight="bold" textLength="10.86" lengthAdjust="spacingAndGlyphs">207</text>
<rect x="338.07" y="385.00" width="11.86" height="1" fill="#6a6a6a"/>
<rect x="419.35" y="367.86" width="30.30" height="0.9" fill="#8a8a8a"/>
<text x="419.85" y="374.5" font-size="7" fill="#262626" font-weight="bold" textLength="29.30" lengthAdjust="spacingAndGlyphs">OFFICE 1</text>
<rect x="419.35" y="375.50" width="30.30" height="1" fill="#6a6a6a"/>
<rect x="428.57" y="377.36" width="11.86" height="0.9" fill="#8a8a8a"/>
<text x="429.07" y="384" font-size="7" fill="#262626" font-weight="bold" textLength="10.86" lengthAdjust="spacingAndGlyphs">205</text>
<rect x="428.57" y="385.00" width="11.86" height="1" fill="#6a6a6a"/>
<polygon points="234.5,373.7 240.3,379.5 234.5,385.3 228.7,379.5" fill="#fff" stroke="#333" stroke-width="0.8"/>
<text x="234.5" y="381.3" font-size="4.5" fill="#333" text-anchor="middle" font-weight="normal" >3</text>
<polygon points="319,373.7 324.8,379.5 319,385.3 313.2,379.5" fill="#fff" stroke="#333" stroke-width="0.8"/>
<text x="319" y="381.3" font-size="4.5" fill="#333" text-anchor="middle" font-weight="normal" >3</text>
<polygon points="400,373.7 405.8,379.5 400,385.3 394.2,379.5" fill="#fff" stroke="#333" stroke-width="0.8"/>
<text x="400" y="381.3" font-size="4.5" fill="#333" text-anchor="middle" font-weight="normal" >3</text>
<line x1="219" y1="379.5" x2="224" y2="379.5" stroke="#111" stroke-width="2" />
<line x1="303" y1="379.5" x2="308" y2="379.5" stroke="#111" stroke-width="2" />
<line x1="383" y1="379.5" x2="388" y2="379.5" stroke="#111" stroke-width="2" />
<rect x="149.5" y="394.5" width="32.5" height="18" fill="none" stroke="#cf5555" stroke-width="0.9"/>
<text x="151.6" y="403" font-size="6.8" fill="#a83020" text-anchor="start" font-weight="normal" >12'-4-1/2"</text>
<text x="151.6" y="410.8" font-size="6.8" fill="#a83020" text-anchor="start" font-weight="normal" >12'-5"</text>
<line x1="151.6" y1="408.6" x2="166" y2="408.6" stroke="#a83020" stroke-width="0.7" />
<rect x="272" y="357" width="20.5" height="33" fill="none" stroke="#cf5555" stroke-width="0.9"/>
<text x="279" y="373.5" font-size="6.8" fill="#b82828" text-anchor="middle" font-weight="normal" transform="rotate(-90 279 373.5)">10'-9-1/2"</text>
<text x="287" y="373.5" font-size="6.8" fill="#b82828" text-anchor="middle" font-weight="normal" transform="rotate(-90 287 373.5)">11'-2"</text>
<rect x="336" y="396" width="21" height="19" fill="none" stroke="#cf5555" stroke-width="0.9"/>
<text x="346.5" y="403.5" font-size="7" fill="#b82828" text-anchor="middle" font-weight="normal" >7'-10"</text>
<text x="346.5" y="411" font-size="7" fill="#b82828" text-anchor="middle" font-weight="normal" >8'-0"</text>
<line x1="338" y1="408.5" x2="355" y2="408.5" stroke="#b82828" stroke-width="0.8" />
<text x="263.8" y="409.3" font-size="7" fill="#9c4028" text-anchor="middle" font-weight="normal" >8'-6"</text>
<text x="435" y="409" font-size="7" fill="#9c4028" text-anchor="middle" font-weight="normal" >9'-8"</text>
<text x="410" y="400" font-size="15" fill="#1b6db3" text-anchor="start" font-weight="bold" textLength="51" lengthAdjust="spacingAndGlyphs" stroke="#1b6db3" stroke-width="0.35">LEASED</text>
<line x1="394" y1="317" x2="394" y2="420" stroke="#d03030" stroke-width="0.95" />
<polygon points="390.875,323 397.125,323 394,318" fill="#e02020"/>
<polygon points="390.875,415 397.125,415 394,420" fill="#e02020"/>
<line x1="474.5" y1="322" x2="474.5" y2="420" stroke="#d03030" stroke-width="0.95" />
<polygon points="471.375,328 477.625,328 474.5,323" fill="#e02020"/>
<polygon points="471.375,415 477.625,415 474.5,420" fill="#e02020"/>
<text x="392" y="366" font-size="6.5" fill="#c04040" text-anchor="middle" font-weight="normal" transform="rotate(-90 392 366)">10'-9"</text>
<text x="473" y="367.5" font-size="6.5" fill="#c04040" text-anchor="middle" font-weight="normal" transform="rotate(-90 473 367.5)">10'-9"</text>
<line x1="394" y1="336" x2="435" y2="336" stroke="#ad6450" stroke-width="0.95" />
<text x="409.5" y="334" font-size="7" fill="#9c4028" text-anchor="middle" font-weight="normal" >5'-1"</text>
<polygon points="451.1,298.0 457.1,302.4 454.8,309.4 447.4,309.4 445.1,302.4" fill="#fff" stroke="#333" stroke-width="0.8"/>
<text x="451.1" y="306.3" font-size="4.5" fill="#333" text-anchor="middle" font-weight="normal" >04</text>
<text x="451" y="313" font-size="5" fill="#d03030" text-anchor="middle" font-weight="normal" >FEC</text>
<rect x="447" y="316.8" width="10.3" height="6.3" fill="#fff" stroke="#d03030" stroke-width="0.8"/><circle cx="452.1" cy="320" r="2" fill="none" stroke="#d03030" stroke-width="0.7"/>
<polygon points="467,302.8 472.8,308.6 467,314.40000000000003 461.2,308.6" fill="#fff" stroke="#333" stroke-width="0.8"/>
<text x="467" y="310.40000000000003" font-size="4.5" fill="#333" text-anchor="middle" font-weight="normal" >P1</text>
<circle cx="384.8" cy="446.5" r="9.5" fill="#fff" stroke="#333" stroke-width="0.9"/>
<line x1="375.3" y1="446.5" x2="394.3" y2="446.5" stroke="#333" stroke-width="0.8" />
<text x="384.8" y="444.5" font-size="5" fill="#222" text-anchor="middle" font-weight="bold" >D1</text>
<text x="384.8" y="452.5" font-size="4.5" fill="#222" text-anchor="middle" font-weight="bold" >A1 6.0</text>
<rect x="377.9" y="412.9" width="14.7" height="18.9" fill="none" stroke="#555" stroke-width="0.7" stroke-dasharray="2,1.5"/>
<line x1="385" y1="431.8" x2="385" y2="437" stroke="#555" stroke-width="0.7" />
<line x1="481" y1="321" x2="635.5" y2="321" stroke="#686868" stroke-width="4.5" stroke-linecap="square"/>
<line x1="664" y1="321" x2="675" y2="321" stroke="#686868" stroke-width="4.5" stroke-linecap="square"/>
<path d="M635.5,321 Q636,331 639.4,336.6" fill="none" stroke="#555" stroke-width="1"/>
<line x1="639.4" y1="336.6" x2="664" y2="321.8" stroke="#666" stroke-width="2.6" />
<line x1="481" y1="394.8" x2="543" y2="394.8" stroke="#686868" stroke-width="4" stroke-linecap="square"/>
<line x1="543.4" y1="321" x2="543.4" y2="361.3" stroke="#686868" stroke-width="3.5" stroke-linecap="square"/>
<path d="M543.4,361.3 Q552,361.5 558.6,366.2" fill="none" stroke="#666" stroke-width="1.6"/>
<line x1="558.6" y1="366.2" x2="542.8" y2="390.8" stroke="#666" stroke-width="2.6" />
<line x1="542.8" y1="390.8" x2="542.8" y2="394.8" stroke="#686868" stroke-width="3.5" stroke-linecap="square"/>
<line x1="598.6" y1="321" x2="598.6" y2="344.5" stroke="#686868" stroke-width="3.5" stroke-linecap="square"/>
<polyline points="545.8,343.5 568.4,356.3 570.4,346.5 573.4,356.3 595,343.5" fill="none" stroke="#666" stroke-width="2.2"/>
<rect x="553.47" y="329.36" width="30.65" height="0.9" fill="#8a8a8a"/>
<text x="553.97" y="336" font-size="7" fill="#262626" font-weight="bold" textLength="29.65" lengthAdjust="spacingAndGlyphs">MECH CL</text>
<rect x="553.47" y="337.00" width="30.65" height="1" fill="#6a6a6a"/>
<rect x="492.76" y="351.86" width="28.49" height="0.9" fill="#8a8a8a"/>
<text x="493.26" y="358.5" font-size="7" fill="#262626" font-weight="bold" textLength="27.49" lengthAdjust="spacingAndGlyphs">RESTRM</text>
<rect x="492.76" y="359.50" width="28.49" height="1" fill="#6a6a6a"/>
<rect x="484.5" y="327" width="3.5" height="29" fill="#ddd" stroke="#666" stroke-width="0.7"/>
<path d="M487.5,329.1 C499,328 506.7,331 506.7,337.5 C506.7,344 499,347 487.5,345.9" fill="#fff" stroke="#333" stroke-width="0.9"/>
<rect x="493" y="323.3" width="34.3" height="2.2" fill="#ccc" stroke="#777" stroke-width="0.5"/>
<rect x="484" y="371.2" width="14.7" height="19.1" fill="#fff" stroke="#555" stroke-width="0.9"/>
<circle cx="490.6" cy="380.6" r="4.8" fill="#fff" stroke="#333" stroke-width="1.1"/><circle cx="491.3" cy="380.6" r="0.9" fill="#222"/>
<rect x="471.5" y="353.6" width="6.9" height="19.1" fill="none" stroke="#666" stroke-width="1.5"/>
<polyline points="473,356 477,360 473,364 477,368 473,371" fill="none" stroke="#888" stroke-width="0.7"/>
<line x1="494" y1="397" x2="494" y2="469" stroke="#444" stroke-width="0.8" stroke-dasharray="4,3"/>
<line x1="504" y1="394" x2="504" y2="474" stroke="#666" stroke-width="0.8" />
<rect x="486.2" y="425.5" width="14.7" height="15.8" fill="#fff" stroke="#444" stroke-width="0.9"/><rect x="488" y="428" width="4" height="10" fill="#fff" stroke="#444" stroke-width="0.6"/>
<line x1="484" y1="474" x2="535" y2="474" stroke="#686868" stroke-width="4" stroke-linecap="square"/>
<rect x="535" y="472.0" width="29" height="4" fill="#dedede" stroke="#7a7a7a" stroke-width="0.8"/>
<line x1="563.7" y1="475" x2="590.5" y2="489.7" stroke="#555" stroke-width="1" />
<path d="M590.5,489.7 Q593,484 593.1,474" fill="none" stroke="#555" stroke-width="0.9"/>
<rect x="592.5" y="472.0" width="28.5" height="4" fill="#dedede" stroke="#7a7a7a" stroke-width="0.8"/>
<line x1="621" y1="474" x2="675" y2="474" stroke="#686868" stroke-width="4" stroke-linecap="square"/>
<line x1="675" y1="474" x2="715" y2="474" stroke="#686868" stroke-width="3" stroke-linecap="square"/>
<rect x="715" y="472.7" width="43.700000000000045" height="3.4" fill="#dedede" stroke="#7a7a7a" stroke-width="0.8"/>
<line x1="749" y1="473" x2="749" y2="476" stroke="#777" stroke-width="0.8" />
<rect x="585.80" y="411.36" width="27.40" height="0.9" fill="#8a8a8a"/>
<text x="586.30" y="418" font-size="7" fill="#262626" font-weight="bold" textLength="26.40" lengthAdjust="spacingAndGlyphs">TENANT</text>
<rect x="585.80" y="419.00" width="27.40" height="1" fill="#6a6a6a"/>
<rect x="583.08" y="419.86" width="32.84" height="0.9" fill="#8a8a8a"/>
<text x="583.58" y="426.5" font-size="7" fill="#262626" font-weight="bold" textLength="31.84" lengthAdjust="spacingAndGlyphs">SUITE 202</text>
<rect x="583.08" y="427.50" width="32.84" height="1" fill="#6a6a6a"/>

</svg></body></html>
